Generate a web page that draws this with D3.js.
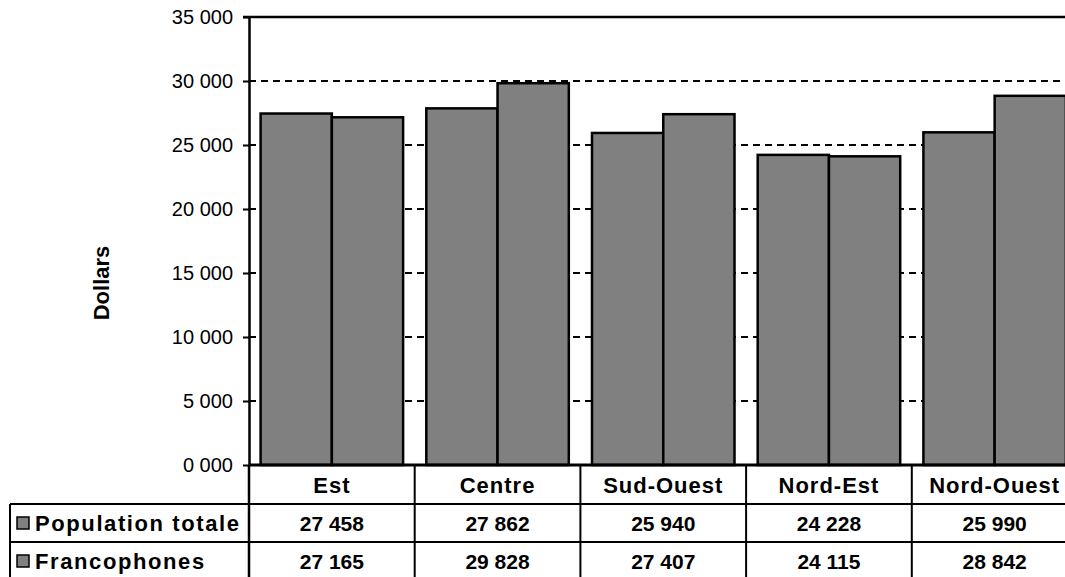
<!DOCTYPE html>
<html>
<head>
<meta charset="utf-8">
<script src="https://cdn.jsdelivr.net/npm/d3@7"></script>
<style>
  body { margin: 0; background: #fff; }
  svg text { font-family: "Liberation Sans", Arial, sans-serif; fill: #000; }
  .axis text { font-size: 20px; }
  .axis .domain { stroke: #000; stroke-width: 2.5; }
  .axis .tick line { stroke: #000; stroke-width: 2; }
  .grid { stroke: #000; stroke-width: 2; stroke-dasharray: 7,5; }
  .bar { fill: #808080; stroke: #000; stroke-width: 2.5; }
  .tbl line { stroke: #000; stroke-width: 2; }
  .tbl text { font-size: 22px; font-weight: bold; }
</style>
</head>
<body>
<svg id="chart" width="1065" height="577"></svg>
<script>
var categories = ["Est", "Centre", "Sud-Ouest", "Nord-Est", "Nord-Ouest"];
var seriesNames = ["Population totale", "Francophones"];
var popTotale = [27458, 27862, 25940, 24228, 25990];
var francophones = [27165, 29828, 27407, 24115, 28842];
var yTicks = [0, 5000, 10000, 15000, 20000, 25000, 30000, 35000];

var seriesValues = [popTotale, francophones];

var svg = d3.select("#chart")
    , left = 249
    , step = 165.7
    , plotTop = 17
    , base = 465
    , rows = [465, 504, 542, 580]
    , W = 1065
    ;

var x = d3.scaleBand()
    .domain(categories)
    .range([left, left + step * categories.length])
    .paddingInner(0.14)
    .paddingOuter(0.07);

var xs = d3.scaleBand()
    .domain(seriesNames)
    .range([0, x.bandwidth()]);

var y = d3.scaleLinear()
    .domain([0, 35000])
    .range([base, plotTop]);

var spaced = d3.formatLocale({decimal: ",", thousands: " ", grouping: [3], currency: ["", " $"]}).format(",d");

// gridlines (dashed), top border solid
svg.append("g")
    .selectAll("line")
    .data(yTicks.filter(function(d) { return d > 0 && d < 35000; }))
    .enter().append("line")
    .attr("class", "grid")
    .attr("x1", left).attr("x2", W)
    .attr("y1", function(d) { return y(d); })
    .attr("y2", function(d) { return y(d); });

svg.append("line")
    .attr("x1", left - 6).attr("x2", W)
    .attr("y1", y(35000)).attr("y2", y(35000))
    .attr("stroke", "#000").attr("stroke-width", 2.5);

// bars
var barData = [];
categories.forEach(function(c, i) {
    seriesNames.forEach(function(s, j) {
        barData.push({cat: c, series: s, value: seriesValues[j][i]});
    });
});

svg.append("g")
    .selectAll("rect")
    .data(barData)
    .enter().append("rect")
    .attr("class", "bar")
    .attr("x", function(d) { return x(d.cat) + xs(d.series); })
    .attr("width", xs.bandwidth())
    .attr("y", function(d) { return y(d.value); })
    .attr("height", function(d) { return y(0) - y(d.value); });

// y axis
svg.append("g")
    .attr("class", "axis")
    .attr("transform", "translate(" + left + ",0)")
    .call(d3.axisLeft(y)
        .tickValues(yTicks)
        .tickSize(6)
        .tickSizeOuter(0)
        .tickPadding(10)
        .tickFormat(function(d) { return Math.floor(d / 1000) + " 000"; }));

svg.append("text")
    .attr("transform", "translate(109,283) rotate(-90)")
    .attr("text-anchor", "middle")
    .style("font-size", "22px")
    .style("font-weight", "bold")
    .text("Dollars");

// data table
var tbl = svg.append("g").attr("class", "tbl");

tbl.append("line")
    .attr("x1", left).attr("x2", W)
    .attr("y1", rows[0]).attr("y2", rows[0])
    .style("stroke-width", 3);

tbl.selectAll("line.hrow")
    .data([rows[1], rows[2]])
    .enter().append("line")
    .attr("class", "hrow")
    .attr("x1", 10).attr("x2", W)
    .attr("y1", function(d) { return d; })
    .attr("y2", function(d) { return d; });

tbl.append("line")
    .attr("x1", 10).attr("x2", 10)
    .attr("y1", rows[1]).attr("y2", 577);

tbl.selectAll("line.vcol")
    .data(d3.range(categories.length))
    .enter().append("line")
    .attr("class", "vcol")
    .attr("x1", function(i) { return left + i * step; })
    .attr("x2", function(i) { return left + i * step; })
    .attr("y1", rows[0]).attr("y2", 577)
    .style("stroke-width", function(i) { return i === 0 ? 2.5 : 2; });

tbl.selectAll("text.cat")
    .data(categories)
    .enter().append("text")
    .attr("class", "cat")
    .attr("x", function(d) { return x(d) + x.bandwidth() / 2; })
    .attr("y", (rows[0] + rows[1]) / 2 + 8)
    .attr("text-anchor", "middle")
    .style("letter-spacing", "1px")
    .text(function(d) { return d; });

seriesNames.forEach(function(s, j) {
    var cy = (rows[j + 1] + rows[j + 2]) / 2;

    tbl.append("rect")
        .attr("x", 17).attr("y", cy - 6)
        .attr("width", 12).attr("height", 12)
        .attr("fill", "#808080")
        .attr("stroke", "#000")
        .attr("stroke-width", 1.5);

    tbl.append("text")
        .attr("x", 35)
        .attr("y", cy + 8)
        .style("letter-spacing", "1.6px")
        .text(s);

    tbl.selectAll("text.v" + j)
        .data(seriesValues[j])
        .enter().append("text")
        .attr("class", "v" + j)
        .attr("x", function(d, i) { return x(categories[i]) + x.bandwidth() / 2; })
        .attr("y", cy + 8)
        .attr("text-anchor", "middle")
        .style("font-size", "21px")
        .text(function(d) { return spaced(d); });
});
</script>
</body>
</html>
